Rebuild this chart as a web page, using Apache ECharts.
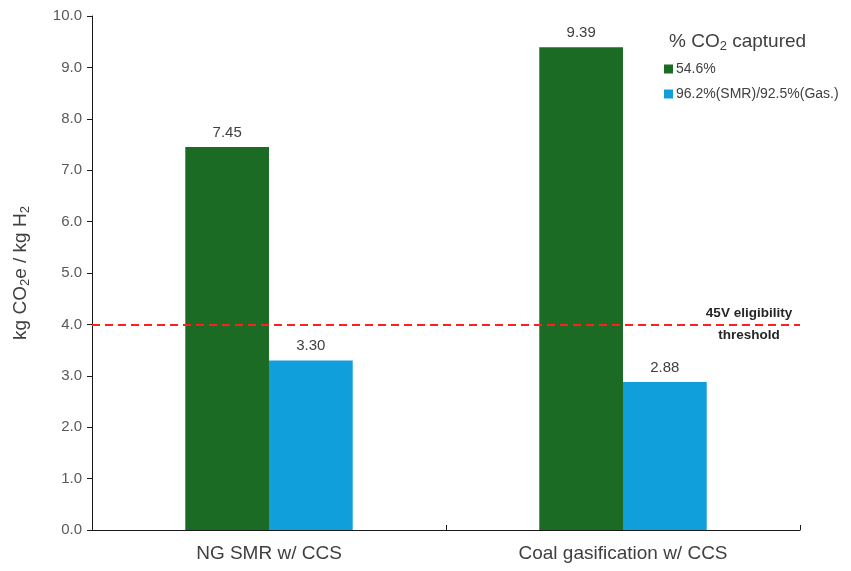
<!DOCTYPE html>
<html>
<head>
<meta charset="utf-8">
<script src="https://cdn.jsdelivr.net/npm/echarts@6/dist/echarts.min.js"></script>
<style>
  html, body { margin: 0; padding: 0; background: #fff; }
  #chart { width: 851px; height: 571px; }
</style>
</head>
<body>
<div id="chart"></div>
<script>
// data
const categories = ['NG SMR w/ CCS', 'Coal gasification w/ CCS']
const partialCapture = [7.45, 9.39]
const highCapture = [3.3, 2.88]
const seriesNames = ['54.6%', '96.2%(SMR)/92.5%(Gas.)']
const threshold = 4.0

const chart = echarts.init(document.getElementById('chart'))

const valueLabel = {
  show: true,
  position: 'top',
  distance: 7,
  color: '#404040',
  fontSize: 15,
  fontFamily: 'Liberation Sans',
  formatter: (p) => p.value.toFixed(2),
}

const option = {
  backgroundColor: '#ffffff',
  animation: false,
  title: {
    text: '% CO{sub|2} captured',
    left: 664,
    top: 26,
    textStyle: {
      fontSize: 19,
      fontWeight: 'normal',
      color: '#404040',
      fontFamily: 'Liberation Sans',
      rich: {
        sub: { fontSize: 13, verticalAlign: 'bottom', padding: [9, 0, 0, 0], color: '#404040' },
      },
    },
  },
  legend: {
    orient: 'vertical',
    left: 659,
    top: 57,
    itemWidth: 9,
    itemHeight: 9,
    itemGap: 11,
    icon: 'rect',
    data: seriesNames,
    textStyle: { fontSize: 14, color: '#404040', fontFamily: 'Liberation Sans', padding: [0, 0, 0, -2] },
  },
  grid: { left: 92, right: 51, top: 16, bottom: 41 },
  xAxis: {
    type: 'category',
    data: categories,
    axisLine: { lineStyle: { color: '#1a1a1a', width: 1 } },
    axisTick: { show: true, inside: true, length: 5, lineStyle: { color: '#1a1a1a' } },
    axisLabel: {
      fontSize: 19,
      color: '#404040',
      margin: 14,
      fontFamily: 'Liberation Sans',
    },
  },
  yAxis: {
    type: 'value',
    min: 0,
    max: 10,
    interval: 1,
    name: 'kg CO{sub|2}e / kg H{sub|2}',
    nameLocation: 'middle',
    nameGap: 60,
    nameTextStyle: {
      fontSize: 19,
      color: '#404040',
      fontFamily: 'Liberation Sans',
      rich: {
        sub: { fontSize: 13, verticalAlign: 'bottom', padding: [9, 0, 0, 0], color: '#404040' },
      },
    },
    axisLine: { show: true, lineStyle: { color: '#1a1a1a', width: 1 } },
    axisTick: { show: true, length: 5, lineStyle: { color: '#1a1a1a' } },
    splitLine: { show: false },
    axisLabel: {
      fontSize: 15,
      color: '#595959',
      margin: 10,
      fontFamily: 'Liberation Sans',
      formatter: (v) => v.toFixed(1),
    },
  },
  series: [
    {
      name: seriesNames[0],
      type: 'bar',
      data: partialCapture,
      barGap: '0%',
      barCategoryGap: '52.7%',
      itemStyle: { color: '#1b6b24' },
      label: valueLabel,
      markLine: {
        silent: true,
        symbol: 'none',
        data: [{ yAxis: threshold }],
        lineStyle: { color: '#ff1f1f', type: [8, 5], width: 2 },
        label: {
          show: true,
          position: 'insideEnd',
          distance: -4,
          formatter: '{a|45V eligibility}\n{a|threshold}',
          rich: {
            a: {
              width: 110,
              align: 'center',
              fontSize: 13.5,
              lineHeight: 22,
              color: '#262626',
              fontWeight: 'bold',
              fontFamily: 'Liberation Sans',
            },
          },
        },
      },
    },
    {
      name: seriesNames[1],
      type: 'bar',
      data: highCapture,
      itemStyle: { color: '#109fda' },
      label: valueLabel,
    },
  ],
}

chart.setOption(option)
</script>
</body>
</html>
